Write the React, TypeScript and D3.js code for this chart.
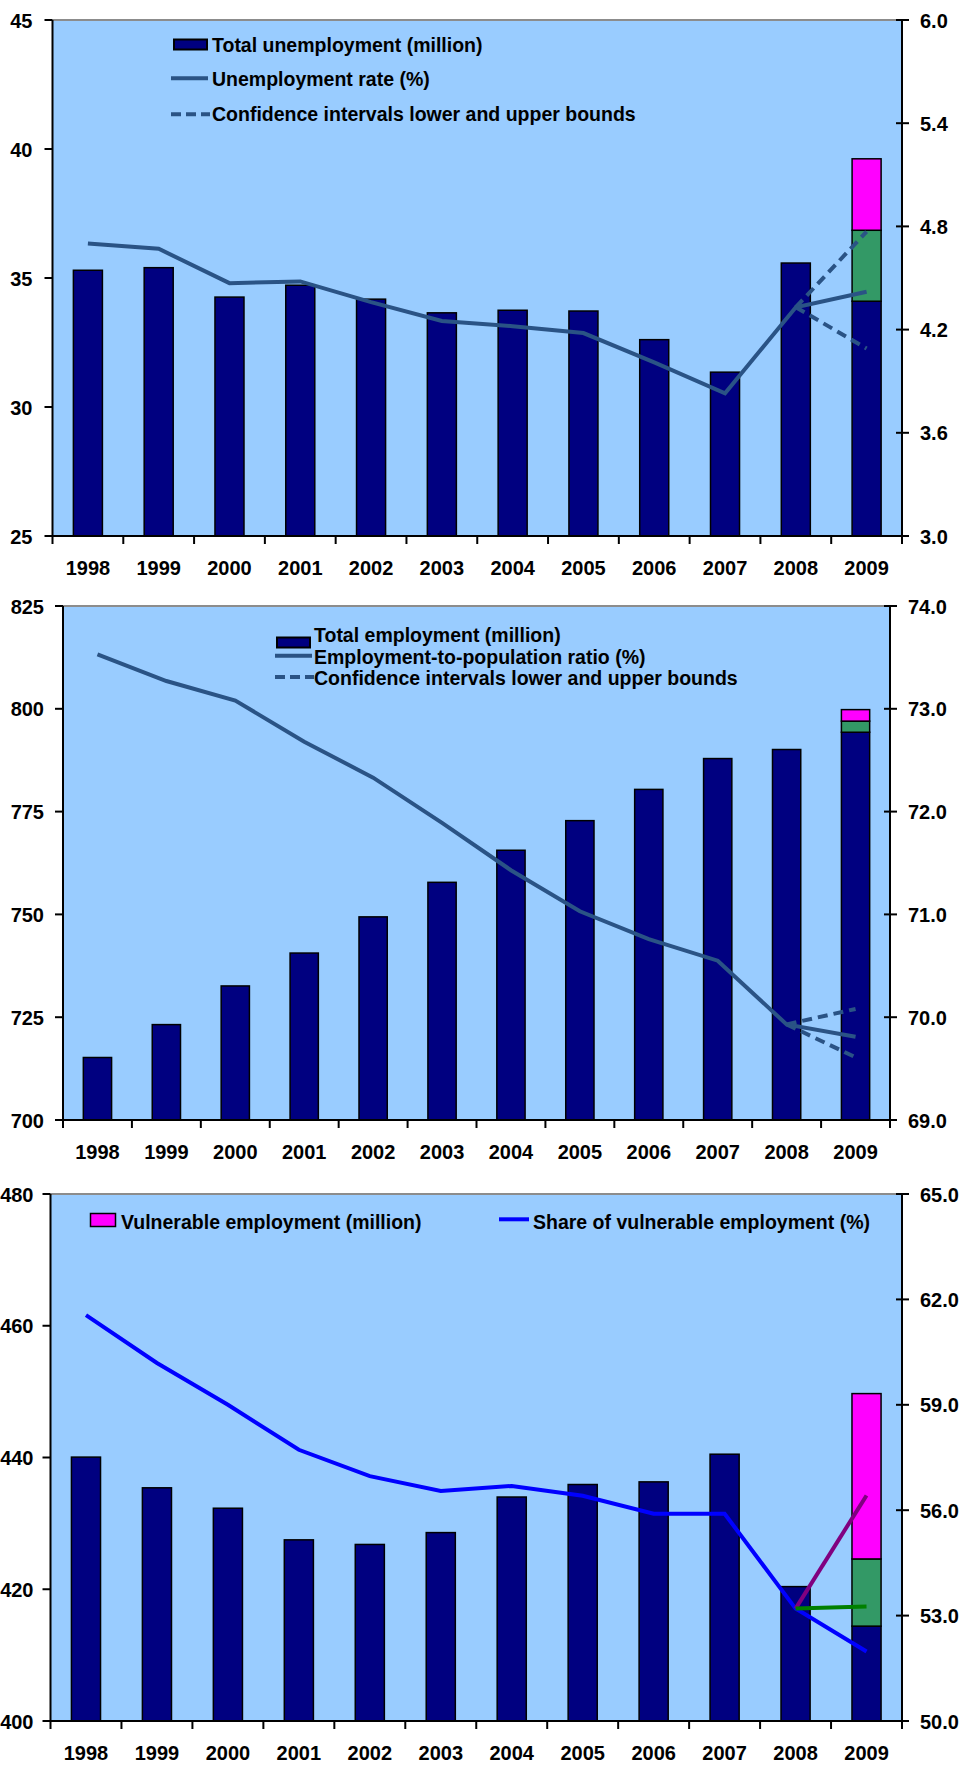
import React from 'react';
import * as d3 from 'd3';

const years = ['1998', '1999', '2000', '2001', '2002', '2003', '2004', '2005', '2006', '2007', '2008', '2009'];

// Chart 1: unemployment
const unemployment = [35.3, 35.4, 34.26, 34.72, 34.18, 33.65, 33.75, 33.72, 32.61, 31.35, 35.58, 34.1];
const unemployment2009Mid = 36.85;
const unemployment2009High = 39.62;
const unemploymentRate = [4.7, 4.67, 4.47, 4.48, 4.36, 4.25, 4.22, 4.18, 4.01, 3.83, 4.33, 4.42];
const unemploymentRate2009Upper = 4.77;
const unemploymentRate2009Lower = 4.09;
const leftTicks1 = [25, 30, 35, 40, 45];
const rightTicks1 = [3.0, 3.6, 4.2, 4.8, 5.4, 6.0];

// Chart 2: employment
const employment = [715.2, 723.2, 732.6, 740.6, 749.4, 757.8, 765.6, 772.8, 780.4, 787.9, 790.1, 794.3];
const employment2009Mid = 797.0;
const employment2009High = 799.8;
const empRatio = [73.53, 73.27, 73.08, 72.68, 72.33, 71.89, 71.43, 71.03, 70.76, 70.55, 69.93, 69.81];
const empRatio2009Upper = 70.08;
const empRatio2009Lower = 69.61;
const leftTicks2 = [700, 725, 750, 775, 800, 825];
const rightTicks2 = [69.0, 70.0, 71.0, 72.0, 73.0, 74.0];

// Chart 3: vulnerable employment
const vulnerable = [440.06, 435.4, 432.3, 427.5, 426.8, 428.6, 434.0, 435.9, 436.3, 440.5, 420.4, 414.4];
const vulnerable2009Mid = 424.6;
const vulnerable2009High = 449.7;
const vulnShare = [61.55, 60.19, 59.0, 57.72, 56.97, 56.55, 56.69, 56.41, 55.9, 55.9, 53.2, 51.98];
const vulnShare2009High = 56.42;
const vulnShare2009Low = 53.26;
const leftTicks3 = [400, 420, 440, 460, 480];
const rightTicks3 = [50.0, 53.0, 56.0, 59.0, 62.0, 65.0];

const FONT = '"Liberation Sans", Arial, Helvetica, sans-serif';
const BG = '#99CCFF';
const NAVY = '#000080';
const GREEN = '#339966';
const MAGENTA = '#FF00FF';
const LINEBLUE = '#2A5385';

type PanelProps = {
  left: number; right: number; top: number; bottom: number;
  leftDomain: [number, number]; rightDomain: [number, number];
  leftTicks: number[]; rightTicks: number[];
  bars: number[]; mid: number; high: number;
  line: number[];
  extraLines: { v: number; color: string; dash?: string }[];
  lineColor: string;
  leftLabelGap: number;
  legend: React.ReactNode;
};

function Panel(p: PanelProps) {
  const x = d3.scaleBand<string>().domain(years).range([p.left, p.right]).padding(0);
  const yL = d3.scaleLinear().domain(p.leftDomain).range([p.bottom, p.top]);
  const yR = d3.scaleLinear().domain(p.rightDomain).range([p.bottom, p.top]);
  const bw = x.bandwidth() * 0.41;
  const cx = (y: string) => (x(y) as number) + x.bandwidth() / 2;
  const lineGen = d3.line<number>().x((_, i) => cx(years[i])).y((d) => yR(d));
  const last = years[years.length - 1];
  const prev = years[years.length - 2];
  const lastIdx = years.length - 1;
  return (
    <g>
      <rect x={p.left} y={p.top} width={p.right - p.left} height={p.bottom - p.top} fill={BG} />
      {p.bars.map((v, i) => (
        <rect key={i} x={cx(years[i]) - bw / 2} y={yL(v)} width={bw} height={p.bottom - yL(v)}
          fill={NAVY} stroke="#000" strokeWidth={1.5} />
      ))}
      <rect x={cx(last) - bw / 2} y={yL(p.mid)} width={bw} height={yL(p.bars[lastIdx]) - yL(p.mid)}
        fill={GREEN} stroke="#000" strokeWidth={1.5} />
      <rect x={cx(last) - bw / 2} y={yL(p.high)} width={bw} height={yL(p.mid) - yL(p.high)}
        fill={MAGENTA} stroke="#000" strokeWidth={1.5} />
      <path d={lineGen(p.line) || ''} fill="none" stroke={p.lineColor} strokeWidth={4} strokeLinejoin="miter" />
      {p.extraLines.map((e, i) => (
        <line key={i} x1={cx(prev)} y1={yR(p.line[lastIdx - 1])} x2={cx(last)} y2={yR(e.v)}
          stroke={e.color} strokeWidth={4} strokeDasharray={e.dash} />
      ))}
      {/* top border */}
      <line x1={p.left} x2={p.right} y1={p.top} y2={p.top} stroke="#8c8c8c" strokeWidth={2} />
      {/* axes */}
      <line x1={p.left} x2={p.left} y1={p.top} y2={p.bottom} stroke="#000" strokeWidth={2} />
      <line x1={p.right} x2={p.right} y1={p.top - 1} y2={p.bottom} stroke="#000" strokeWidth={2} />
      <line x1={p.left} x2={p.right} y1={p.bottom} y2={p.bottom} stroke="#000" strokeWidth={2} />
      {p.leftTicks.map((t) => (
        <g key={'l' + t}>
          <line x1={p.left - 8} x2={p.left} y1={yL(t)} y2={yL(t)} stroke="#000" strokeWidth={2} />
          <text x={p.left - p.leftLabelGap} y={yL(t)} dy="0.38em" textAnchor="end"
            fontFamily={FONT} fontWeight="bold" fontSize={20}>{d3.format('d')(t)}</text>
        </g>
      ))}
      {p.rightTicks.map((t) => (
        <g key={'r' + t}>
          <line x1={p.right - 6} x2={p.right + 7} y1={yR(t)} y2={yR(t)} stroke="#000" strokeWidth={2} />
          <text x={p.right + 18} y={yR(t)} dy="0.38em" textAnchor="start"
            fontFamily={FONT} fontWeight="bold" fontSize={20}>{d3.format('.1f')(t)}</text>
        </g>
      ))}
      {years.map((yv) => (
        <line key={'t' + yv} x1={x(yv) as number} x2={x(yv) as number} y1={p.bottom} y2={p.bottom + 8}
          stroke="#000" strokeWidth={2} />
      ))}
      <line x1={p.right} x2={p.right} y1={p.bottom} y2={p.bottom + 8} stroke="#000" strokeWidth={2} />
      {years.map((yv) => (
        <text key={'x' + yv} x={cx(yv)} y={p.bottom + 38.5} textAnchor="middle"
          fontFamily={FONT} fontWeight="bold" fontSize={20}>{yv}</text>
      ))}
      {p.legend}
    </g>
  );
}

function LegendText({ x, y, text, size = 19.5 }: { x: number; y: number; text: string; size?: number }) {
  return (
    <text x={x} y={y} fontFamily={FONT} fontWeight="bold" fontSize={size}>{text}</text>
  );
}

export default function App() {
  const legend1 = (
    <g>
      <rect x={174} y={39.5} width={33} height={10} fill={NAVY} stroke="#000" strokeWidth={2} />
      <LegendText x={212} y={51.7} text="Total unemployment (million)" />
      <line x1={171} x2={208} y1={78.3} y2={78.3} stroke={LINEBLUE} strokeWidth={4} />
      <LegendText x={212} y={85.5} text="Unemployment rate (%)" />
      <line x1={171} x2={210} y1={114.3} y2={114.3} stroke={LINEBLUE} strokeWidth={4} strokeDasharray="10,5" />
      <LegendText x={212} y={120.5} text="Confidence intervals lower and upper bounds" />
    </g>
  );
  const legend2 = (
    <g>
      <rect x={277} y={637.5} width={33} height={10} fill={NAVY} stroke="#000" strokeWidth={2} />
      <LegendText x={314} y={642.3} text="Total employment (million)" />
      <line x1={275} x2={312} y1={655.7} y2={655.7} stroke={LINEBLUE} strokeWidth={4} />
      <LegendText x={314} y={663.5} text="Employment-to-population ratio (%)" />
      <line x1={275} x2={314} y1={677} y2={677} stroke={LINEBLUE} strokeWidth={4} strokeDasharray="10,5" />
      <LegendText x={314} y={685} text="Confidence intervals lower and upper bounds" />
    </g>
  );
  const legend3 = (
    <g>
      <rect x={90.5} y={1213.5} width={25} height={13} fill={MAGENTA} stroke="#000" strokeWidth={1.5} />
      <LegendText x={121} y={1228.5} text="Vulnerable employment (million)" />
      <line x1={499} x2={529} y1={1219.3} y2={1219.3} stroke="#0000FF" strokeWidth={4} />
      <LegendText x={533} y={1228.5} text="Share of vulnerable employment (%)" />
    </g>
  );
  return (
    <svg width={963} height={1765} style={{ position: 'absolute', left: 0, top: 0, background: '#fff' }}>
      <Panel left={52.5} right={902} top={20} bottom={536}
        leftDomain={[25, 45]} rightDomain={[3, 6]} leftTicks={leftTicks1} rightTicks={rightTicks1}
        bars={unemployment} mid={unemployment2009Mid} high={unemployment2009High}
        line={unemploymentRate} lineColor={LINEBLUE} leftLabelGap={20}
        extraLines={[
          { v: unemploymentRate2009Upper, color: LINEBLUE, dash: '10,6' },
          { v: unemploymentRate2009Lower, color: LINEBLUE, dash: '10,6' },
        ]}
        legend={legend1} />
      <Panel left={63} right={890} top={606} bottom={1120}
        leftDomain={[700, 825]} rightDomain={[69, 74]} leftTicks={leftTicks2} rightTicks={rightTicks2}
        bars={employment} mid={employment2009Mid} high={employment2009High}
        line={empRatio} lineColor={LINEBLUE} leftLabelGap={19}
        extraLines={[
          { v: empRatio2009Upper, color: LINEBLUE, dash: '10,6' },
          { v: empRatio2009Lower, color: LINEBLUE, dash: '10,6' },
        ]}
        legend={legend2} />
      <Panel left={50.5} right={902} top={1194} bottom={1721}
        leftDomain={[400, 480]} rightDomain={[50, 65]} leftTicks={leftTicks3} rightTicks={rightTicks3}
        bars={vulnerable} mid={vulnerable2009Mid} high={vulnerable2009High}
        line={vulnShare} lineColor="#0000FF" leftLabelGap={17}
        extraLines={[
          { v: vulnShare2009High, color: '#800080' },
          { v: vulnShare2009Low, color: '#008000' },
        ]}
        legend={legend3} />
    </svg>
  );
}
